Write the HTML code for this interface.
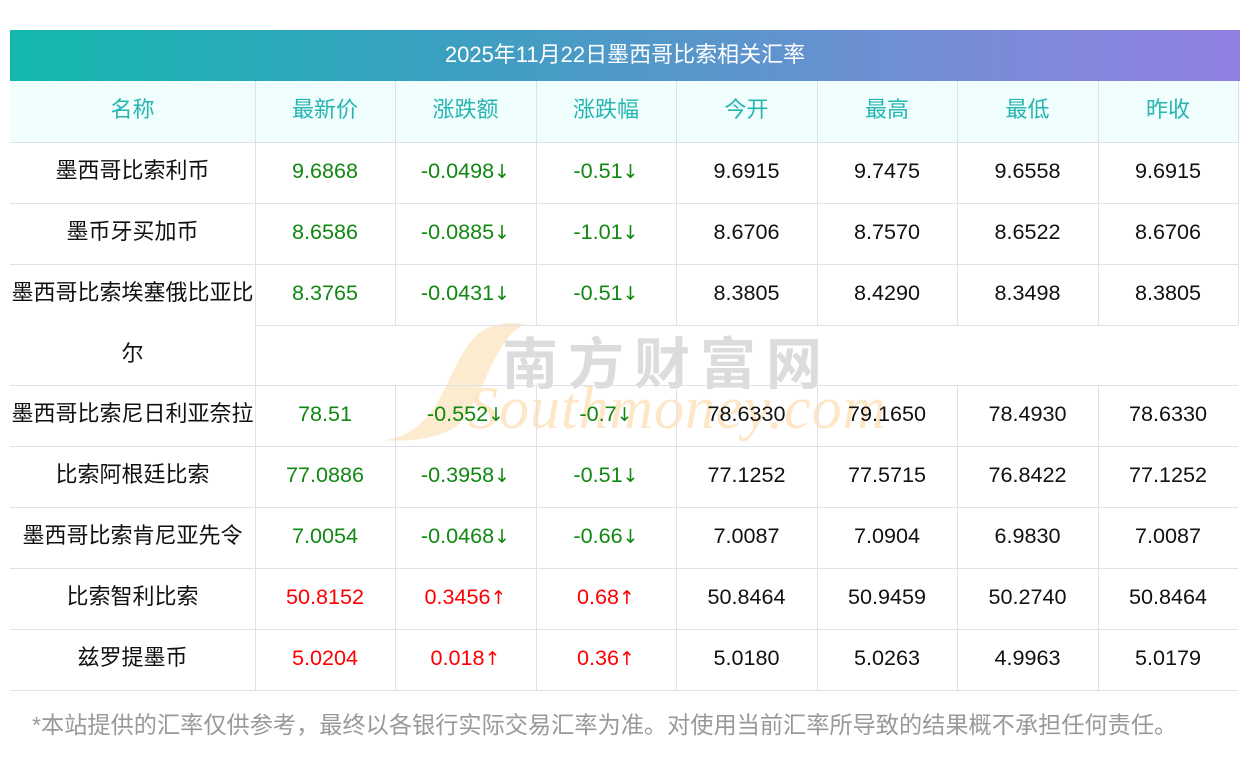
<!DOCTYPE html>
<html><head><meta charset="utf-8"><style>
body{margin:0;width:1250px;height:757px;background:#fff;position:relative;font-family:"Liberation Sans","Noto Sans CJK SC",sans-serif;overflow:hidden}
.t{position:absolute;left:10px;top:30px;width:1230px;height:51px;background:linear-gradient(90deg,#13b8ad,#3aa0c0 35%,#7a8bd8 80%,#9180e2);color:#fff;font-size:22px;line-height:49px;text-align:center}
.h{position:absolute;left:10px;top:81px;width:1230px;height:61px;background:#f0fefe}
.c{position:absolute;height:61px;line-height:57px;text-align:center;font-size:21.6px;color:#111;white-space:nowrap}
.c.n{font-size:22px}
.a{font-family:"DejaVu Sans",sans-serif;font-size:19px}
.hl{position:absolute;height:1px;background:#dfe1ea}
.vl{position:absolute;width:1px;background:#dfe1ea}
.g{color:#118811}.r{color:#f00}.hd{color:#26b5b0;font-size:22px}
.wm{position:absolute;font-family:"Liberation Serif",serif;font-style:italic;color:#fde7c6;font-size:60px;left:468px;top:374px;letter-spacing:1px}
.wm2{position:absolute;color:#dcdcdc;font-size:56px;left:502px;top:320px;font-weight:bold;letter-spacing:10px}
.sc{position:absolute;left:385px;top:322px;width:150px;height:120px}
.f{position:absolute;left:32px;top:706px;font-size:23.2px;color:#999;white-space:nowrap}
</style></head><body>
<svg class="sc" viewBox="0 0 150 120"><path d="M0 118 C60 110 60 40 95 10 C110 0 130 0 140 2 C105 20 100 80 70 105 C50 118 20 120 0 118Z" fill="#fdebd0"/></svg>
<div class="wm2">南方财富网</div>
<div class="wm">Southmoney.com</div>
<div class="t">2025年11月22日墨西哥比索相关汇率</div>
<div class="h"></div>
<div id="g"></div>
<div class="f">*本站提供的汇率仅供参考，最终以各银行实际交易汇率为准。对使用当前汇率所导致的结果概不承担任何责任。</div>
<script>
var X=[10,255,395,536,676,817,957,1098,1238];
var H=["名称","最新价","涨跌额","涨跌幅","今开","最高","最低","昨收"];
var R=[
["墨西哥比索利币","9.6868","-0.0498↓","-0.51↓","9.6915","9.7475","9.6558","9.6915","g"],
["墨币牙买加币","8.6586","-0.0885↓","-1.01↓","8.6706","8.7570","8.6522","8.6706","g"],
["墨西哥比索埃塞俄比亚比","8.3765","-0.0431↓","-0.51↓","8.3805","8.4290","8.3498","8.3805","g"],
["墨西哥比索尼日利亚奈拉","78.51","-0.552↓","-0.7↓","78.6330","79.1650","78.4930","78.6330","g"],
["比索阿根廷比索","77.0886","-0.3958↓","-0.51↓","77.1252","77.5715","76.8422","77.1252","g"],
["墨西哥比索肯尼亚先令","7.0054","-0.0468↓","-0.66↓","7.0087","7.0904","6.9830","7.0087","g"],
["比索智利比索","50.8152","0.3456↑","0.68↑","50.8464","50.9459","50.2740","50.8464","r"],
["兹罗提墨币","5.0204","0.018↑","0.36↑","5.0180","5.0263","4.9963","5.0179","r"]];
var Y=[142,203,264,385,446,507,568,629];
var s="";
function c(x,w,y,t,cl){t=t.replace(/([↓↑])/,'<span class="a">$1</span>');s+='<div class="c '+cl+'" style="left:'+x+'px;width:'+w+'px;top:'+y+'px">'+t+'</div>';}
for(var i=0;i<8;i++)c(X[i],X[i+1]-X[i],81,H[i],"hd");
R.forEach(function(r,k){for(var i=0;i<8;i++)c(X[i],X[i+1]-X[i],Y[k],r[i],i==0?"n":(i<4?r[8]:""));});
c(10,245,325,"尔","n");
function hl(x1,x2,y){s+='<div class="hl" style="left:'+x1+'px;width:'+(x2-x1)+'px;top:'+y+'px"></div>';}
function vl(x,y1,y2){s+='<div class="vl" style="left:'+x+'px;top:'+y1+'px;height:'+(y2-y1)+'px"></div>';}
[142,203,264,385,446,507,568,629,690].forEach(function(y){hl(10,1238,y);});
hl(255,1238,325);
for(var i=1;i<8;i++){vl(X[i],81,325);vl(X[i],385,690);}
vl(255,325,385);
vl(1238,81,325);
document.getElementById("g").innerHTML=s;
</script>
</body></html>
